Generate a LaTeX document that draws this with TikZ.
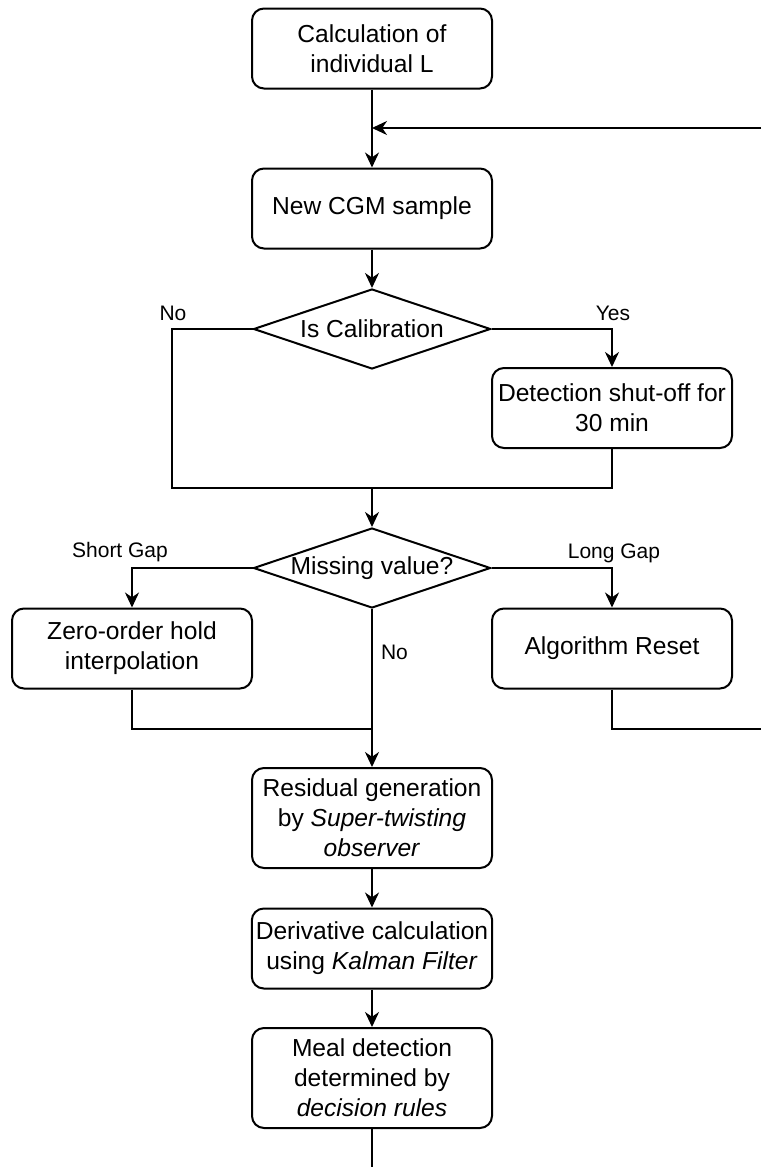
\documentclass[tikz,border=0pt]{standalone}
\usepackage{fontspec}
\setmainfont{Liberation Sans}
\usetikzlibrary{shapes.geometric,arrows.meta}

\begin{document}
\begin{tikzpicture}[x=0.5pt,y=-0.5pt,line width=1pt,
  font=\fontsize{12.3}{15}\selectfont,
  >={Stealth[length=7.5pt,width=7pt,inset=2.4pt]},
  procbox/.style={draw,rounded corners=6pt,align=center,inner sep=2pt,
    minimum width=120pt,minimum height=40pt},
  tallbox/.style={procbox,minimum height=50pt},
  decide/.style={draw,diamond,aspect=3,inner sep=0pt,
    minimum width=118.5pt,minimum height=40pt},
  branchlbl/.style={font=\fontsize{10.5}{12}\selectfont,inner sep=0pt}]
\useasboundingbox (0,0) rectangle (761,1167);

% boxes and decisions
\node[procbox] (calcL) at (372,48.5) {Calculation of\\individual L};
\node[procbox] (cgm) at (372,208.5) {New CGM sample};
\node[decide] (isCal) at (372,329) {Is Calibration};
\node[procbox] (shutoff) at (612,408) {Detection shut-off for\\30 min};
\node[decide] (missing) at (372,568) {Missing value?};
\node[procbox] (zoh) at (132,648.5) {Zero-order hold\\interpolation};
\node[procbox] (reset) at (612,648.5) {Algorithm Reset};
\node[tallbox] (residual) at (372,818) {Residual generation\\by \textit{Super-twisting}\\\textit{observer}};
\node[procbox] (deriv) at (372,948.5) {Derivative calculation\\using \textit{Kalman Filter}};
\node[tallbox] (meal) at (372,1078) {Meal detection\\determined by\\\textit{decision rules}};

% branch labels
\node[branchlbl] (lblNo) at (173,313) {No};
\node[branchlbl] (lblYes) at (613,313) {Yes};
\node[branchlbl] (lblShort) at (120,552) {Short Gap};
\node[branchlbl] (lblLong) at (614,553) {Long Gap};
\node[branchlbl,anchor=west] (lblNoGap) at (380,652) {No};

% helper points
\coordinate (loopIn) at (761,128);
\coordinate (calNo) at (172,488);
\coordinate (calYes) at (612,488);
\coordinate (calJoin) at (372,488);
\coordinate (zohJoin) at (372,729);
\coordinate (resetOut) at (761,729);
\coordinate (mealOut) at (372,1167);

% connectors
\draw[->] (calcL) -- (cgm);
\draw[->] (loopIn) -- (calcL.south |- loopIn);
\draw[->] (cgm) -- (isCal);
\draw[->] (isCal.east) -| (shutoff.north);
\draw (isCal.west) -| (calNo) -- (calYes) -- (shutoff.south);
\draw[->] (calJoin) -- (missing);
\draw[->] (missing.west) -| (zoh.north);
\draw[->] (missing.east) -| (reset.north);
\draw[->] (missing.south) -- (residual.north);
\draw (zoh.south) |- (zohJoin);
\draw (reset.south) |- (resetOut);
\draw[->] (residual) -- (deriv);
\draw[->] (deriv) -- (meal);
\draw (meal) -- (mealOut);
\end{tikzpicture}
\end{document}
